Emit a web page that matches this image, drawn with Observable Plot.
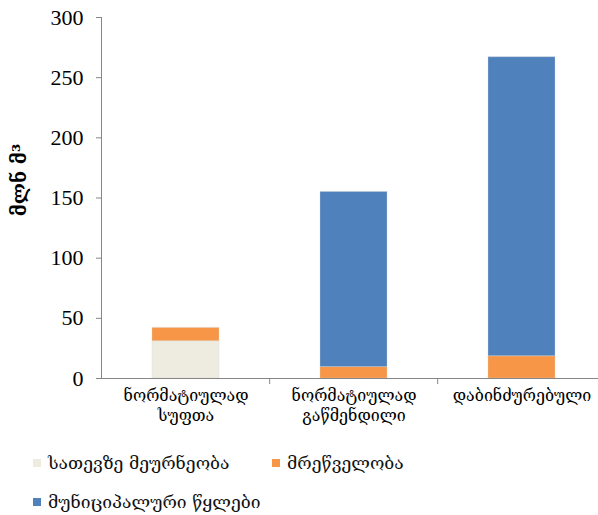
<!DOCTYPE html>
<html><head><meta charset="utf-8">
<script src="https://cdn.jsdelivr.net/npm/d3@7"></script>
<script src="https://cdn.jsdelivr.net/npm/@observablehq/plot@0.6"></script>
<style>
body{margin:0;background:#fff;font-family:"Liberation Serif","DejaVu Serif",serif;}
#legend{position:relative;height:83px;width:598px}
.item{position:absolute;display:flex;align-items:center;font-size:17.5px;line-height:20px;color:#111;font-family:"DejaVu Serif",serif}
.sw{width:8px;height:8px;margin-right:7px;flex:none}
</style></head><body><div id="chart"></div><div id="legend"></div>
<script>
const categories = ["ნორმატიულად\nსუფთა", "ნორმატიულად\nგაწმენდილი", "დაბინძურებული"];
const series = ["სათევზე მეურნეობა", "მრეწველობა", "მუნიციპალური წყლები"];
const colors = ["#EEECE1", "#F79646", "#4F81BD"];
const fishery = [31, 0, 0];
const industry = [11, 9.5, 18.5];
const municipal = [0, 145.5, 248.5];
const yTicks = [0, 50, 100, 150, 200, 250, 300];
const yLabel = "მლნ მ³";

const values = [fishery, industry, municipal];
const data = [];
series.forEach((s, si) => categories.forEach((c, ci) => data.push({category: c, series: s, value: values[si][ci]})));

const W = 598, ML = 101, XEND = 607;
const step = (XEND - ML) / categories.length;

const chart = Plot.plot({
  width: W, height: 432,
  marginLeft: ML, marginRight: 0, marginTop: 17, marginBottom: 54,
  style: {fontFamily: "'Liberation Serif','DejaVu Serif',serif", background: "#fff", color: "#000"},
  x: {domain: categories, range: [ML, XEND], paddingInner: 0.6, paddingOuter: 0.3, label: null},
  y: {domain: [0, 300], label: null},
  color: {domain: series, range: colors},
  marks: [
    Plot.barY(data, {x: "category", y: "value", fill: "series", order: series,
      stroke: "#d8d8d8", strokeOpacity: 0.35, strokeWidth: 1}),
    Plot.frame({anchor: "left", stroke: "#868686"}),
    Plot.ruleY([0], {stroke: "#868686"}),
    Plot.ruleX(categories.slice(1), {x: d => d, dx: -step / 2, y1: 0, y2: 0, insetBottom: -6, stroke: "#868686"}),
    Plot.axisY({ticks: yTicks, tickSize: 5, tickPadding: 13, stroke: "#868686", fontSize: 22, fill: "#000", label: null}),
    Plot.axisX({tickSize: 0, tickPadding: 8, fontSize: 16, fill: "#000", fontFamily: "'DejaVu Serif',serif", lineHeight: 1.25, label: null}),
    Plot.text([yLabel], {frameAnchor: "left", textAnchor: "middle", rotate: -90, dx: -82, dy: -18, fontSize: 19, fontWeight: "bold", fill: "#000", fontFamily: "'DejaVu Serif',serif"})
  ]
});
document.getElementById("chart").appendChild(chart);

const legend = document.getElementById("legend");
const pos = [[33, 21], [272, 21], [33, 60]];
series.forEach((s, i) => {
  const it = document.createElement("div");
  it.className = "item";
  it.style.left = pos[i][0] + "px";
  it.style.top = pos[i][1] + "px";
  it.innerHTML = `<span class="sw" style="background:${colors[i]}"></span><span>${s}</span>`;
  legend.appendChild(it);
});
</script></body></html>
